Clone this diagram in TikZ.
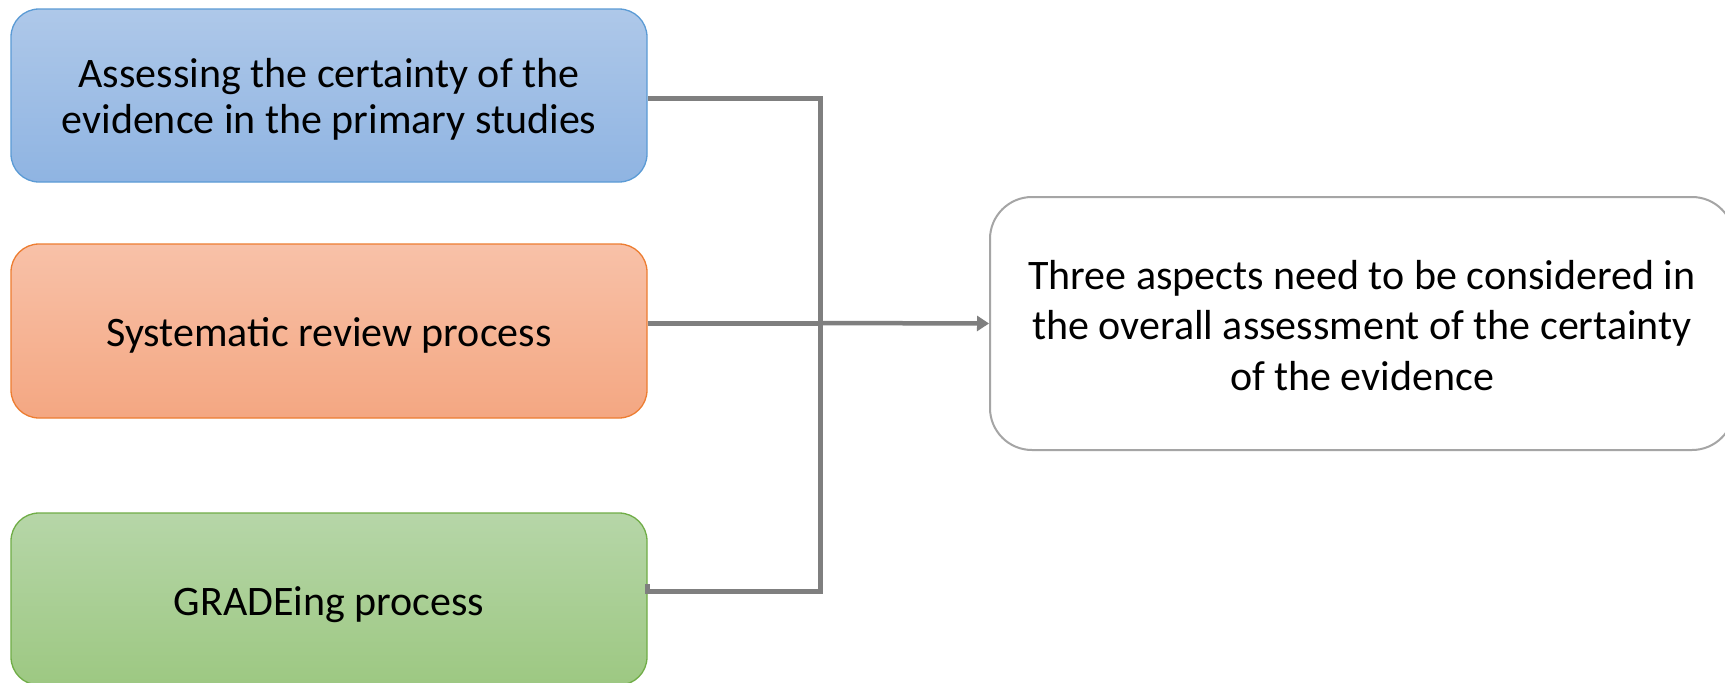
\documentclass[tikz,border=0pt]{standalone}
\usepackage{fontspec}
\setmainfont{Carlito}
\usetikzlibrary{arrows.meta}
\definecolor{bluetop}{HTML}{AEC8E9}
\definecolor{bluebot}{HTML}{8FB4E2}
\definecolor{blueedge}{HTML}{5B9BD5}
\definecolor{orgtop}{HTML}{F8C1A8}
\definecolor{orgbot}{HTML}{F4A782}
\definecolor{orgedge}{HTML}{ED7D31}
\definecolor{grntop}{HTML}{B6D6A8}
\definecolor{grnbot}{HTML}{9DC882}
\definecolor{grnedge}{HTML}{70AD47}
\definecolor{rightedge}{HTML}{A5A5A5}
\definecolor{connc}{HTML}{7F7F7F}
\tikzset{
  srcbox/.style={rounded corners=28pt, line width=1.3pt, minimum width=636pt, inner sep=0pt},
  srctext/.style={align=center, inner sep=0pt, font=\fontsize{42}{46.5}\selectfont},
  tgtbox/.style={rounded corners=42pt, line width=2pt, draw=rightedge, fill=white,
    minimum width=744pt, minimum height=253pt, inner sep=0pt},
  tgttext/.style={align=center, inner sep=0pt, font=\fontsize{42}{50.5}\selectfont},
  conn/.style={draw=connc, line width=5pt, line join=miter},
  arr/.style={draw=connc, line width=4.5pt, -{Triangle[length=12pt,width=15pt]}}
}
\begin{document}
\begin{tikzpicture}[x=1pt,y=-1pt]
\useasboundingbox[fill=white] (0,0) rectangle (1725,683);
\node[srcbox, draw=blueedge, top color=bluetop, bottom color=bluebot, minimum height=173pt]
  (blue) at (329,95.5) {};
\node[srctext] (bluet) at ([yshift=-4pt]blue.center)
  {Assessing the certainty of the\\evidence in the primary studies};
\node[srcbox, draw=orgedge, top color=orgtop, bottom color=orgbot, minimum height=174pt]
  (orange) at (329,331) {};
\node[srctext] (oranget) at ([yshift=-4.5pt]orange.center) {Systematic review process};
\node[srcbox, draw=grnedge, top color=grntop, bottom color=grnbot, minimum height=172pt]
  (green) at (329,599) {};
\node[srctext] (greent) at ([yshift=-5.5pt]green.center) {GRADEing process};
\node[tgtbox] (right) at (1362,323.5) {};
\node[tgttext] (rightt) at ([yshift=-2pt]right.center)
  {Three aspects need to be considered in\\the overall assessment of the certainty\\of the evidence};
\coordinate (jt) at (820,98);
\coordinate (jm) at (820,323);
\coordinate (jb) at (820,591);
\draw[conn] ([yshift=15pt]green.east) -- ([yshift=8pt]green.east) -- (jb) -- (jt) -- ([yshift=-2.5pt]blue.east);
\draw[conn] ([yshift=8pt]orange.east) -- (jm);
\draw[arr] (jm) -- (right.west);
\end{tikzpicture}
\end{document}
